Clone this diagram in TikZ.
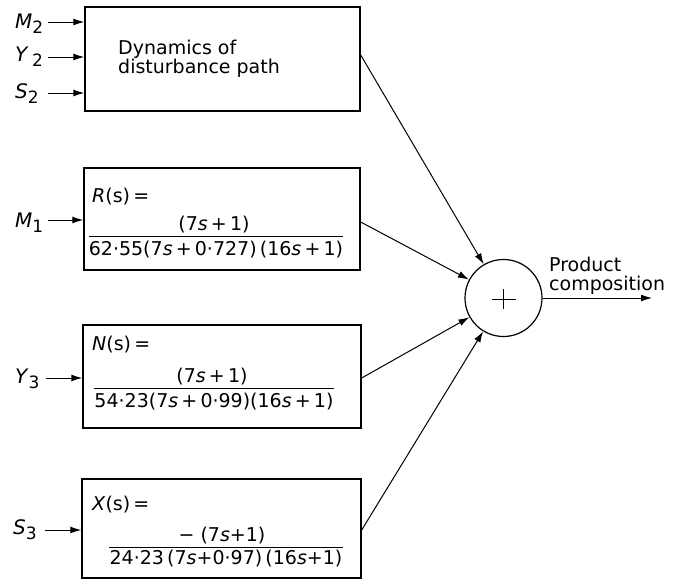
\documentclass[tikz,border=0pt]{standalone}
\usepackage{fontspec}
\setmainfont{DejaVu Sans}
\usetikzlibrary{arrows.meta}
\newcommand\lowidx[1]{\raisebox{-5pt}{\fontsize{17}{17}\selectfont #1}}
\newcommand\pl{\,+\,}
\tikzset{
  blk/.style={draw, line width=1.4pt, inner sep=0pt},
  arr/.style={-{Latex[length=11pt,width=7pt]}, line width=1pt},
  txt/.style={font=\fontsize{19}{19}\selectfont, inner sep=0pt},
  sig/.style={font=\fontsize{20}{21}\selectfont, inner sep=0pt, anchor=base west},
}
\begin{document}
\begin{tikzpicture}[x=1pt,y=-1pt]
\useasboundingbox (0,0) rectangle (673,584);

% blocks
\node[blk, minimum width=275pt, minimum height=104pt] (d) at (222.5,59) {};
\node[blk, minimum width=276pt, minimum height=102pt] (r) at (222,219) {};
\node[blk, minimum width=278pt, minimum height=103pt] (n) at (222,376.5) {};
\node[blk, minimum width=279pt, minimum height=99pt]  (x) at (221.5,528.5) {};

% summing junction
\node[draw, circle, line width=1.2pt, minimum size=77pt, inner sep=0pt] (sum) at (503.5,298) {};
\draw[line width=1pt] (491.5,299) -- (515.5,299) (503.5,289) -- (503.5,309);

% disturbance block text
\node[txt, anchor=base west, align=left] (dt) at (118,73) {Dynamics of\\disturbance path};

% R(s)
\node[txt, anchor=base west] (rl) at (92,202) {\textit{R}(s)\,=};
\node[txt, anchor=base] (rn) at (214,230) {(7\textit{s}\pl 1)};
\node[txt, anchor=base] (rd) at (216,255) {62·55(7\textit{s}\pl 0·727)\,(16\textit{s}\pl 1)};
\draw[line width=1pt] (rd.west |- 0,236) -- (rd.east |- 0,236);

% N(s)
\node[txt, anchor=base west] (nl) at (92,350) {\textit{N}(s)\,=};
\node[txt, anchor=base] (nn) at (212,382) {(7\textit{s}\pl 1)};
\node[txt, anchor=base] (nd) at (214,407) {54·23(7\textit{s}\pl 0·99)(16\textit{s}\pl 1)};
\draw[line width=1pt] (nd.west |- 0,388) -- (nd.east |- 0,388);

% X(s)
\node[txt, anchor=base west] (xl) at (92,510) {\textit{X}(s)\,=};
\node[txt, anchor=base] (xn) at (222,541) {− (7\textit{s}+1)};
\node[txt, anchor=base] (xd) at (226,564) {24·23\,(7\textit{s}+0·97)\,(16\textit{s}+1)};
\draw[line width=1pt] (xd.west |- 0,547) -- (xd.east |- 0,547);

% input signals
\node[sig] (lm2) at (15,28) {\textit{M}\lowidx{2}};
\node[sig] (ly2) at (15,61) {\textit{Y}\,\lowidx{2}};
\node[sig] (ls2) at (15,98) {\textit{S}\lowidx{2}};
\node[sig] (lm1) at (15,227) {\textit{M}\lowidx{1}};
\node[sig] (ly3) at (15,383) {\textit{Y}\lowidx{3}};
\node[sig] (ls3) at (13,534) {\textit{S}\lowidx{3}};

\coordinate (i1) at (48,22);
\coordinate (i2) at (48,57);
\coordinate (i3) at (48,93);
\coordinate (i4) at (48,220);
\coordinate (i5) at (46,378);
\coordinate (i6) at (45,530);
\draw[arr] (i1) -- (i1 -| d.west);
\draw[arr] (i2) -- (i2 -| d.west);
\draw[arr] (i3) -- (i3 -| d.west);
\draw[arr] (i4) -- (i4 -| r.west);
\draw[arr] (i5) -- (i5 -| n.west);
\draw[arr] (i6) -- (i6 -| x.west);

% block outputs into the junction
\coordinate (o1) at (d.east |- 0,55);
\coordinate (o2) at (r.east |- 0,222);
\coordinate (o3) at (n.east |- 0,378);
\coordinate (o4) at (x.east |- 0,530);
\draw[arr] (o1) -- (sum);
\draw[arr] (o2) -- (sum);
\draw[arr] (o3) -- (sum);
\draw[arr] (o4) -- (sum);

% output
\coordinate (out) at (652,298);
\draw[arr] (sum) -- (out);
\node[txt, anchor=base west, align=left] (pc) at (549,290) {Product\\composition};
\end{tikzpicture}
\end{document}
